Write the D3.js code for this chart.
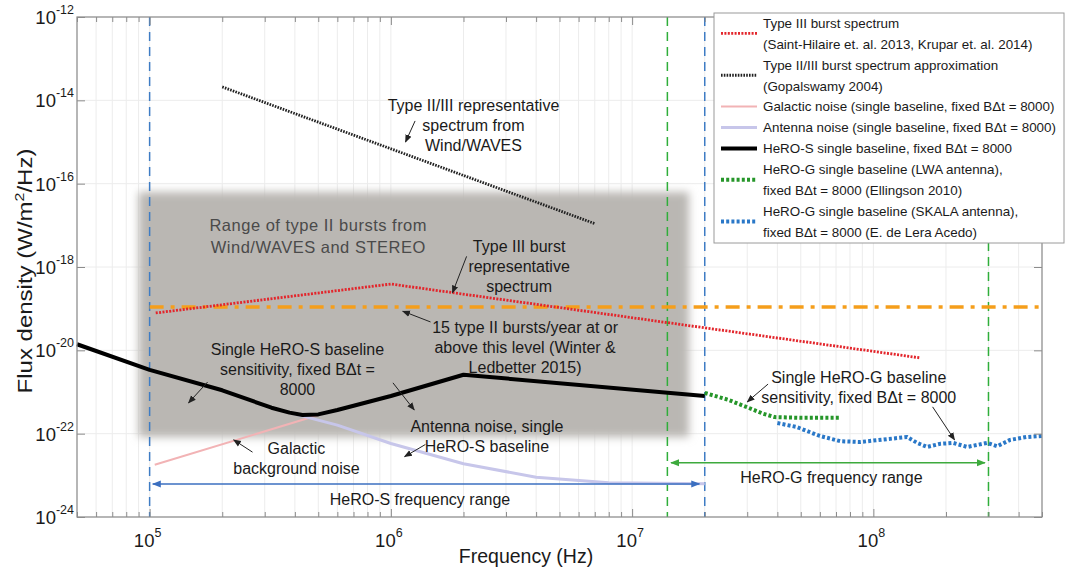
<!DOCTYPE html>
<html>
<head>
<meta charset="utf-8">
<script src="https://cdn.jsdelivr.net/npm/d3@7"></script>
<style>
  body { margin: 0; background: #fff; }
  #chart { width: 1073px; height: 581px; }
  text { font-family: "Liberation Sans", Arial, sans-serif; fill: #1a1a1a; }
</style>
</head>
<body>
<div id="chart"></div>
<script>
// ---- data (frequency in Hz, flux density in W/m^2/Hz) ----
const typeIIISpectrum = [[1.06e5, 7.9e-20], [1e6, 3.9e-19], [1.56e8, 6.6e-21]];
const typeIIIIApprox = [[2e5, 2.1e-14], [7e6, 1.1e-17]];
const galacticNoise = [[1.05e5, 1.8e-23], [5.5e5, 3.3e-22]];
const antennaNoise = [[3.8e5, 3.2e-22], [6e5, 1.6e-22], [1e6, 5.8e-23], [2e6, 1.9e-23],
  [4e6, 9e-24], [8e6, 6.6e-24], [2e7, 6.3e-24]];
const heroS = [[5e4, 1.4e-20], [1e5, 3.4e-21], [2e5, 1.1e-21], [3.2e5, 4.2e-22], [3.8e5, 3.2e-22],
  [4.3e5, 2.8e-22], [5e5, 2.9e-22], [6e5, 3.7e-22], [1e6, 8e-22], [2e6, 2.6e-21], [2e7, 8e-22]];
const heroGLwa = [[2e7, 9.5e-22], [2.5e7, 6.5e-22], [3e7, 4.3e-22], [3.5e7, 3e-22], [3.9e7, 2.5e-22],
  [5e7, 2.4e-22], [7.2e7, 2.4e-22]];
const heroGSkala = [[4e7, 1.8e-22], [4.8e7, 1.45e-22], [6e7, 8.8e-23], [7.3e7, 6.6e-23], [8.8e7, 6.3e-23],
  [1.14e8, 7.4e-23], [1.38e8, 8.3e-23], [1.52e8, 6e-23], [1.67e8, 4.8e-23], [1.89e8, 5.7e-23],
  [2.14e8, 6e-23], [2.45e8, 4.8e-23], [2.96e8, 6e-23], [3.26e8, 5e-23], [3.69e8, 7.1e-23],
  [4.3e8, 8.3e-23], [5e8, 8.8e-23]];
const typeIIRateLevel = [[1e5, 1.1e-19], [5e8, 1.1e-19]];
const typeIIRangeFreq = [9e4, 1.72e7];
const typeIIRangeFlux = [6.3e-17, 8.3e-23];
const heroSBand = [1e5, 2e7];
const heroGBand = [1.4e7, 3e8];
const heroSArrow = [[1.03e5, 6.2e-24], [1.9e7, 6.2e-24]];
const heroGArrow = [[1.45e7, 2e-23], [2.9e8, 2e-23]];

const xTickExps = [5, 6, 7, 8];
const yTickExps = [-12, -14, -16, -18, -20, -22, -24];

const legendLabels = [
  ["Type III burst spectrum", "(Saint-Hilaire et. al. 2013, Krupar et. al. 2014)"],
  ["Type II/III burst spectrum approximation", "(Gopalswamy 2004)"],
  ["Galactic noise (single baseline, fixed B\u0394t = 8000)"],
  ["Antenna noise (single baseline, fixed B\u0394t = 8000)"],
  ["HeRO-S single baseline, fixed B\u0394t = 8000"],
  ["HeRO-G single baseline (LWA antenna),", "fixed B\u0394t = 8000 (Ellingson 2010)"],
  ["HeRO-G single baseline (SKALA antenna),", "fixed B\u0394t = 8000 (E. de Lera Acedo)"]
];

// annotation texts with anchor [freq, flux] and arrows [from, to]
const annotations = [
  { lines: ["Type II/III representative", "spectrum from", "Wind/WAVES"], at: [2.2e6, 7.8e-15],
    arrows: [[[1.26e6, 3.2e-15], [1.15e6, 1e-15]]] },
  { lines: ["Type III burst", "representative", "spectrum"], at: [3.4e6, 3.2e-18],
    arrows: [[[2.06e6, 1.8e-18], [1.8e6, 2.4e-19]]] },
  { lines: ["15 type II bursts/year at or", "above this level (Winter &", "Ledbetter 2015)"], at: [3.6e6, 3.6e-20],
    arrows: [[[1.46e6, 4.8e-20], [1.12e6, 8.7e-20]]] },
  { lines: ["Single HeRO-S baseline", "sensitivity, fixed B\u0394t =", "8000"], at: [4.1e5, 1.07e-20],
    arrows: [[[1.74e5, 1.74e-21], [1.45e5, 5.5e-22]], [[1.02e6, 1.66e-21], [1.25e6, 3.7e-22]]] },
  { lines: ["Antenna noise, single", "HeRO-S baseline"], at: [2.5e6, 1.5e-22],
    arrows: [[[1.39e6, 5.5e-23], [1.14e6, 2.8e-23]]] },
  { lines: ["Galactic", "background noise"], at: [4.06e5, 4.6e-23],
    arrows: [[[2.67e5, 3.6e-23], [2.23e5, 7.1e-23]]] },
  { lines: ["Single HeRO-G baseline", "sensitivity, fixed B\u0394t = 8000"], at: [8.7e7, 2.3e-21],
    arrows: [[[3.66e7, 1.55e-21], [3e7, 5.8e-22]], [[1.76e8, 4.4e-22], [2.17e8, 7.1e-23]]] },
  { lines: ["HeRO-S frequency range"], at: [1.32e6, 2.7e-24], arrows: [] },
  { lines: ["HeRO-G frequency range"], at: [6.7e7, 9.1e-24], arrows: [] }
];
const rangeLabel = ["Range of type II bursts from", "Wind/WAVES and STEREO"];
const rangeLabelAt = [5e5, 1.02e-17];

function drawFluxChart(divId) {
  const W = 1073, H = 581;
  const plot = { left: 77, right: 1042, top: 17, bottom: 517 };

  const svg = d3.select(`#${divId}`).append("svg")
    .attr("width", W).attr("height", H);

  const defs = svg.append("defs");
  defs.append("filter").attr("id", "soft")
    .attr("x", "-10%").attr("y", "-10%").attr("width", "120%").attr("height", "120%")
    .append("feGaussianBlur").attr("stdDeviation", 4);
  const mk = (id, color, size) => {
    defs.append("marker").attr("id", id)
      .attr("viewBox", "0 0 10 10").attr("refX", 9).attr("refY", 5)
      .attr("markerWidth", size).attr("markerHeight", size)
      .attr("orient", "auto-start-reverse").attr("markerUnits", "userSpaceOnUse")
      .append("path").attr("d", "M0,1 L10,5 L0,9 z").attr("fill", color);
  };
  mk("arrBlack", "#222", 8);
  mk("arrBlue", "#3b6fc0", 9);
  mk("arrGreen", "#3daa3d", 9);

  const x = d3.scaleLog().domain([5e4, 5e8]).range([plot.left, plot.right]);
  const y = d3.scaleLog().domain([1e-24, 1e-12]).range([plot.bottom, plot.top]);

  // minor/major x ticks
  const xTicks = [];
  for (let e = 4; e <= 8; e++) for (let m = 1; m <= 9; m++) {
    const v = m * Math.pow(10, e);
    if (v >= 5e4 && v <= 5e8) xTicks.push(v);
  }
  const yMajor = yTickExps.map((e) => Math.pow(10, e));

  // grid
  svg.append("g").selectAll("line").data(xTicks).join("line")
    .attr("x1", (d) => x(d)).attr("x2", (d) => x(d))
    .attr("y1", plot.top).attr("y2", plot.bottom)
    .attr("stroke", "#ececec").attr("stroke-width", 1);
  svg.append("g").selectAll("line").data(yMajor).join("line")
    .attr("x1", plot.left).attr("x2", plot.right)
    .attr("y1", (d) => y(d)).attr("y2", (d) => y(d))
    .attr("stroke", "#ececec").attr("stroke-width", 1);

  // shaded region: range of type II bursts
  svg.append("rect")
    .attr("x", x(typeIIRangeFreq[0])).attr("y", y(typeIIRangeFlux[0]))
    .attr("width", x(typeIIRangeFreq[1]) - x(typeIIRangeFreq[0]))
    .attr("height", y(typeIIRangeFlux[1]) - y(typeIIRangeFlux[0]))
    .attr("fill", "#bab7b3").attr("filter", "url(#soft)");

  svg.append("g").selectAll("text").data(rangeLabel).join("text")
    .attr("x", x(rangeLabelAt[0])).attr("y", (d, i) => y(rangeLabelAt[1]) + i * 22 + 6)
    .attr("text-anchor", "middle").attr("font-size", 16.5).attr("letter-spacing", 0.5)
    .style("fill", "#4a4a4a").text((d) => d);

  // vertical dashed band limits
  const vline = (f, color) => svg.append("line")
    .attr("x1", x(f)).attr("x2", x(f)).attr("y1", plot.top).attr("y2", plot.bottom)
    .attr("stroke", color).attr("stroke-width", 1.5).attr("stroke-dasharray", "9,6");
  heroSBand.forEach((f) => vline(f, "#3e7cc4"));
  heroGBand.forEach((f) => vline(f, "#2fae3a"));

  const line = d3.line().x((d) => x(d[0])).y((d) => y(d[1]));
  const styles = [
    { data: galacticNoise, color: "#f2b3b5", width: 2, dash: null },
    { data: antennaNoise, color: "#c7c6ea", width: 3, dash: null },
    { data: typeIIRateLevel, color: "#f59e1b", width: 3.5, dash: "14,7,4,7" },
    { data: typeIIISpectrum, color: "#e3252b", width: 2.8, dash: "2,1.4" },
    { data: typeIIIIApprox, color: "#222", width: 2.8, dash: "1.6,1.2" },
    { data: heroS, color: "#000", width: 4, dash: null },
    { data: heroGLwa, color: "#26962a", width: 4, dash: "3,2.2" },
    { data: heroGSkala, color: "#2a78c8", width: 4, dash: "3,2.2" }
  ];
  svg.append("g").selectAll("path").data(styles).join("path")
    .attr("d", (d) => line(d.data))
    .attr("fill", "none")
    .attr("stroke", (d) => d.color)
    .attr("stroke-width", (d) => d.width)
    .attr("stroke-dasharray", (d) => d.dash)
    .attr("stroke-linejoin", "round");

  // frequency range arrows
  svg.append("path").attr("d", line(heroSArrow))
    .attr("stroke", "#3b6fc0").attr("stroke-width", 1.5).attr("fill", "none")
    .attr("marker-start", "url(#arrBlue)").attr("marker-end", "url(#arrBlue)");
  svg.append("path").attr("d", line(heroGArrow))
    .attr("stroke", "#3daa3d").attr("stroke-width", 1.5).attr("fill", "none")
    .attr("marker-start", "url(#arrGreen)").attr("marker-end", "url(#arrGreen)");

  // annotations
  const ann = svg.append("g");
  annotations.forEach((a) => {
    a.lines.forEach((t, i) => {
      ann.append("text")
        .attr("x", x(a.at[0])).attr("y", y(a.at[1]) + i * 20 + 6)
        .attr("text-anchor", "middle").attr("font-size", 16).text(t);
    });
    a.arrows.forEach((ar) => {
      ann.append("path").attr("d", line(ar))
        .attr("stroke", "#222").attr("stroke-width", 1).attr("fill", "none")
        .attr("marker-end", "url(#arrBlack)");
    });
  });

  // axes frame and ticks
  svg.append("rect")
    .attr("x", plot.left).attr("y", plot.top)
    .attr("width", plot.right - plot.left).attr("height", plot.bottom - plot.top)
    .attr("fill", "none").attr("stroke", "#8c8c8c").attr("stroke-width", 1.2);

  const isMajor = (v) => Math.abs(Math.log10(v) - Math.round(Math.log10(v))) < 1e-9;
  const gB = svg.append("g").attr("transform", `translate(0,${plot.bottom})`)
    .call(d3.axisBottom(x).tickValues(xTicks).tickFormat("").tickSizeOuter(0).tickSizeInner(-5));
  const gT = svg.append("g").attr("transform", `translate(0,${plot.top})`)
    .call(d3.axisTop(x).tickValues(xTicks).tickFormat("").tickSizeOuter(0).tickSizeInner(-5));
  [gB, gT].forEach((g) => {
    g.select(".domain").remove();
    g.selectAll(".tick line").attr("stroke", "#8c8c8c")
      .attr("y2", (d) => (isMajor(d) ? 8 : 5) * (g === gB ? -1 : 1));
  });
  const gL = svg.append("g").attr("transform", `translate(${plot.left},0)`)
    .call(d3.axisLeft(y).tickValues(yMajor).tickFormat("").tickSizeOuter(0).tickSizeInner(-8));
  const gR = svg.append("g").attr("transform", `translate(${plot.right},0)`)
    .call(d3.axisRight(y).tickValues(yMajor).tickFormat("").tickSizeOuter(0).tickSizeInner(-8));
  [gL, gR].forEach((g) => {
    g.select(".domain").remove();
    g.selectAll(".tick line").attr("stroke", "#8c8c8c");
  });

  // tick labels with superscript exponents
  xTickExps.forEach((e) => {
    const t = svg.append("text").attr("x", x(Math.pow(10, e)) - 2).attr("y", 547)
      .attr("text-anchor", "middle").attr("font-size", 18.5);
    t.append("tspan").text("10");
    t.append("tspan").attr("dy", -10).attr("font-size", 12.5).text(e);
  });
  yTickExps.forEach((e) => {
    const t = svg.append("text").attr("x", plot.left - 3).attr("y", y(Math.pow(10, e)) + 7)
      .attr("text-anchor", "end").attr("font-size", 18.5);
    t.append("tspan").text("10");
    t.append("tspan").attr("dy", -10).attr("font-size", 12.5).text(e);
  });

  // axis titles
  svg.append("text").attr("x", 526).attr("y", 563)
    .attr("text-anchor", "middle").attr("font-size", 19.5).text("Frequency (Hz)");
  const yt = svg.append("text")
    .attr("transform", `translate(32,${(plot.top + plot.bottom) / 2 + 4}) rotate(-90) scale(1,0.84)`)
    .attr("text-anchor", "middle").attr("font-size", 24);
  yt.append("tspan").text("Flux density (W/m");
  yt.append("tspan").attr("dy", -9).attr("font-size", 16).text("2");
  yt.append("tspan").attr("dy", 9).text("/Hz)");

  // legend
  const lg = svg.append("g");
  lg.append("rect").attr("x", 714).attr("y", 13).attr("width", 350).attr("height", 230)
    .attr("fill", "#fff").attr("stroke", "#9a9a9a").attr("stroke-width", 1);
  const rowStep = 20.9;
  let row = 0;
  legendLabels.forEach((lines, i) => {
    const s = styles[[3, 4, 0, 1, 5, 6, 7][i]];
    const midY = 23 + (row + (lines.length - 1) / 2) * rowStep;
    lg.append("line").attr("x1", 721).attr("x2", 757).attr("y1", midY).attr("y2", midY)
      .attr("stroke", s.color).attr("stroke-width", s.width)
      .attr("stroke-dasharray", s.dash);
    lines.forEach((t, j) => {
      lg.append("text").attr("x", 763).attr("y", 23 + (row + j) * rowStep + 4.8)
        .attr("font-size", 13.4).text(t);
    });
    row += lines.length;
  });
}

drawFluxChart("chart");
</script>
</body>
</html>
